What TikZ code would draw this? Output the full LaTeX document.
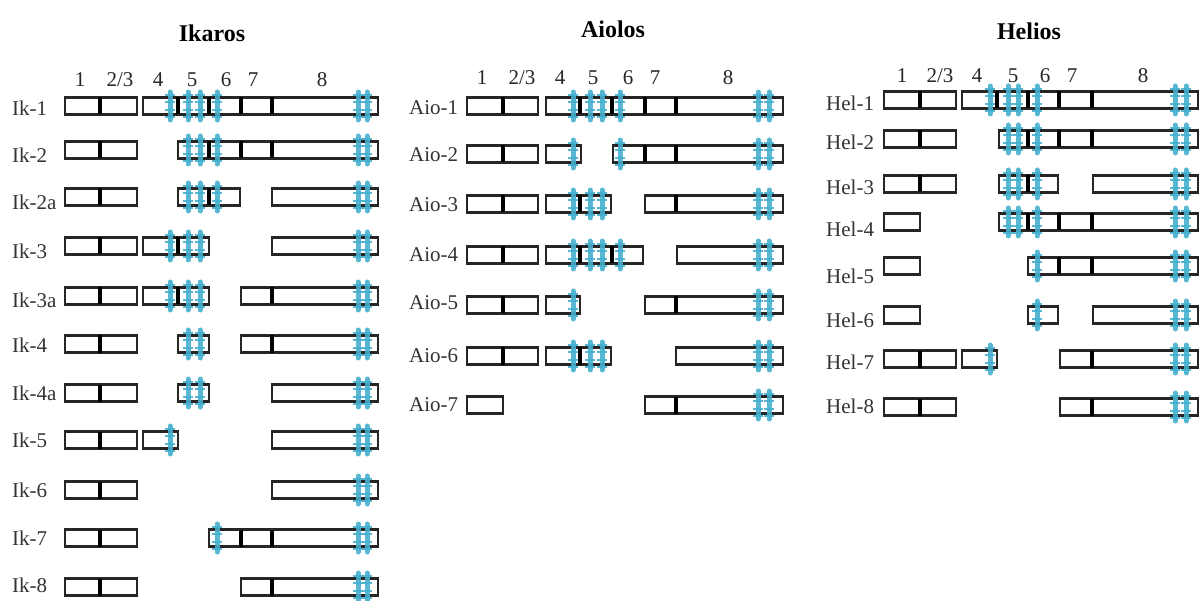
\documentclass[tikz,border=0pt]{standalone}
\usepackage{fontspec}
\setmainfont{Liberation Serif}
\definecolor{zfblue}{RGB}{70,176,206}
\tikzset{
  exon/.style={draw=black!85, line width=2.3pt, fill=white},
  divl/.style={draw=black, line width=3.4pt},
  lab/.style={anchor=west, inner sep=0pt, font=\fontsize{21}{21}\selectfont, text=black!80},
  colnum/.style={inner sep=0pt, font=\fontsize{21}{21}\selectfont, text=black!85},
  ttl/.style={inner sep=0pt, font=\fontsize{24}{24}\selectfont\bfseries},
}
\newcommand\zf[2]{%
  \draw[zfblue, line width=5pt, opacity=0.9, line cap=round] (#1,#2-14) -- (#1,#2+14);
  \foreach \t in {-11,-4,4,11} {\draw[zfblue, line width=2.2pt, opacity=0.9] (#1-5,#2+\t) -- (#1+5,#2+\t);}
}
% #1 y, #2 segments a/b, #3 dividers, #4 zinc fingers
\newcommand\exrow[4]{%
  \foreach \a/\b in {#2} {\draw[exon] (\a,#1-8.5) rectangle (\b,#1+8.5);}
  \foreach \d in {#3} {\ifx\d\empty\else\draw[divl] (\d,#1-8.5) -- (\d,#1+8.5);\fi}
  \foreach \z in {#4} {\zf{\z}{#1}}
}
\begin{document}
\begin{tikzpicture}[x=1pt,y=-1pt]
\useasboundingbox (0,0) rectangle (1204,601);
\fill[white] (0,0) rectangle (1204,601);
% ---------- titles
\node[ttl] (tIk) at (212,33) {Ikaros};
\node[ttl] (tAio) at (613,29) {Aiolos};
\node[ttl] (tHel) at (1029,31) {Helios};
% ---------- column numbers
\foreach \n/\x [count=\i] in {1/80,{2/3}/120,4/158,5/192,6/226,7/253,8/322}
  \node[colnum] (cIk\i) at (\x,80) {\n};
\foreach \n/\x [count=\i] in {1/482,{2/3}/522,4/560,5/593,6/628,7/655,8/728}
  \node[colnum] (cAio\i) at (\x,78) {\n};
\foreach \n/\x [count=\i] in {1/902,{2/3}/940,4/977,5/1013,6/1045,7/1072,8/1143}
  \node[colnum] (cHel\i) at (\x,76) {\n};
% ---------- Ikaros
\foreach \t/\y [count=\i] in {Ik-1/108,Ik-2/155,Ik-2a/202,Ik-3/251,Ik-3a/300,Ik-4/345,Ik-4a/393,Ik-5/440,Ik-6/490,Ik-7/538,Ik-8/585}
  \node[lab] (lIk\i) at (12,\y) {\t};
\exrow{106}{65/137,143/378}{100,178,209,241,272}{170,188,200,217,358,367}
\exrow{150}{65/137,178/378}{100,209,241,272}{188,200,217,358,367}
\exrow{197}{65/137,178/240,272/378}{100,209}{188,200,217,358,367}
\exrow{246}{65/137,143/209,272/378}{100,178}{170,188,200,358,367}
\exrow{296}{65/137,143/209,241/378}{100,178,272}{170,188,200,358,367}
\exrow{344}{65/137,178/209,241/378}{100,272}{188,200,358,367}
\exrow{393}{65/137,178/209,272/378}{100}{188,200,358,367}
\exrow{440}{65/137,143/178,272/378}{100}{170,358,367}
\exrow{490}{65/137,272/378}{100}{358,367}
\exrow{538}{65/137,209/378}{100,241,272}{217,358,367}
\exrow{587}{65/137,241/378}{100,272}{358,367}
% ---------- Aiolos
\foreach \t/\y [count=\i] in {Aio-1/108,Aio-2/155,Aio-3/205,Aio-4/255,Aio-5/303,Aio-6/356,Aio-7/405}
  \node[lab] (lAio\i) at (409,\y) {\t};
\exrow{106}{467/538,546/783}{503,580,612,645,676}{573,590,602,620,758,769}
\exrow{154}{467/538,546/581,613/783}{503,645,676}{573,620,758,769}
\exrow{204}{467/538,546/611,645/783}{503,580,676}{573,590,602,758,769}
\exrow{255}{467/538,546/643,677/783}{503,580,612}{573,590,602,620,758,769}
\exrow{305}{467/538,546/580,645/783}{503,676}{573,758,769}
\exrow{356}{467/538,546/611,676/783}{503,580}{573,590,602,758,769}
\exrow{405}{467/503,645/783}{676}{758,769}
% ---------- Helios
\foreach \t/\y [count=\i] in {Hel-1/103,Hel-2/142,Hel-3/187,Hel-4/229,Hel-5/276,Hel-6/320,Hel-7/362,Hel-8/406}
  \node[lab] (lHel\i) at (826,\y) {\t};
\exrow{100}{884/956,962/1198}{920,997,1028,1059,1092}{990,1008,1018,1037,1175,1186}
\exrow{139}{884/956,999/1198}{920,1028,1059,1092}{1008,1018,1037,1175,1186}
\exrow{184}{884/956,999/1058,1093/1198}{920,1028}{1008,1018,1037,1175,1186}
\exrow{222}{884/920,999/1198}{1028,1059,1092}{1008,1018,1037,1175,1186}
\exrow{266}{884/920,1028/1198}{1059,1092}{1037,1175,1186}
\exrow{315}{884/920,1028/1058,1093/1198}{}{1037,1175,1186}
\exrow{359}{884/956,962/997,1060/1198}{920,1092}{990,1175,1186}
\exrow{407}{884/956,1060/1198}{920,1092}{1175,1186}
\end{tikzpicture}
\end{document}
